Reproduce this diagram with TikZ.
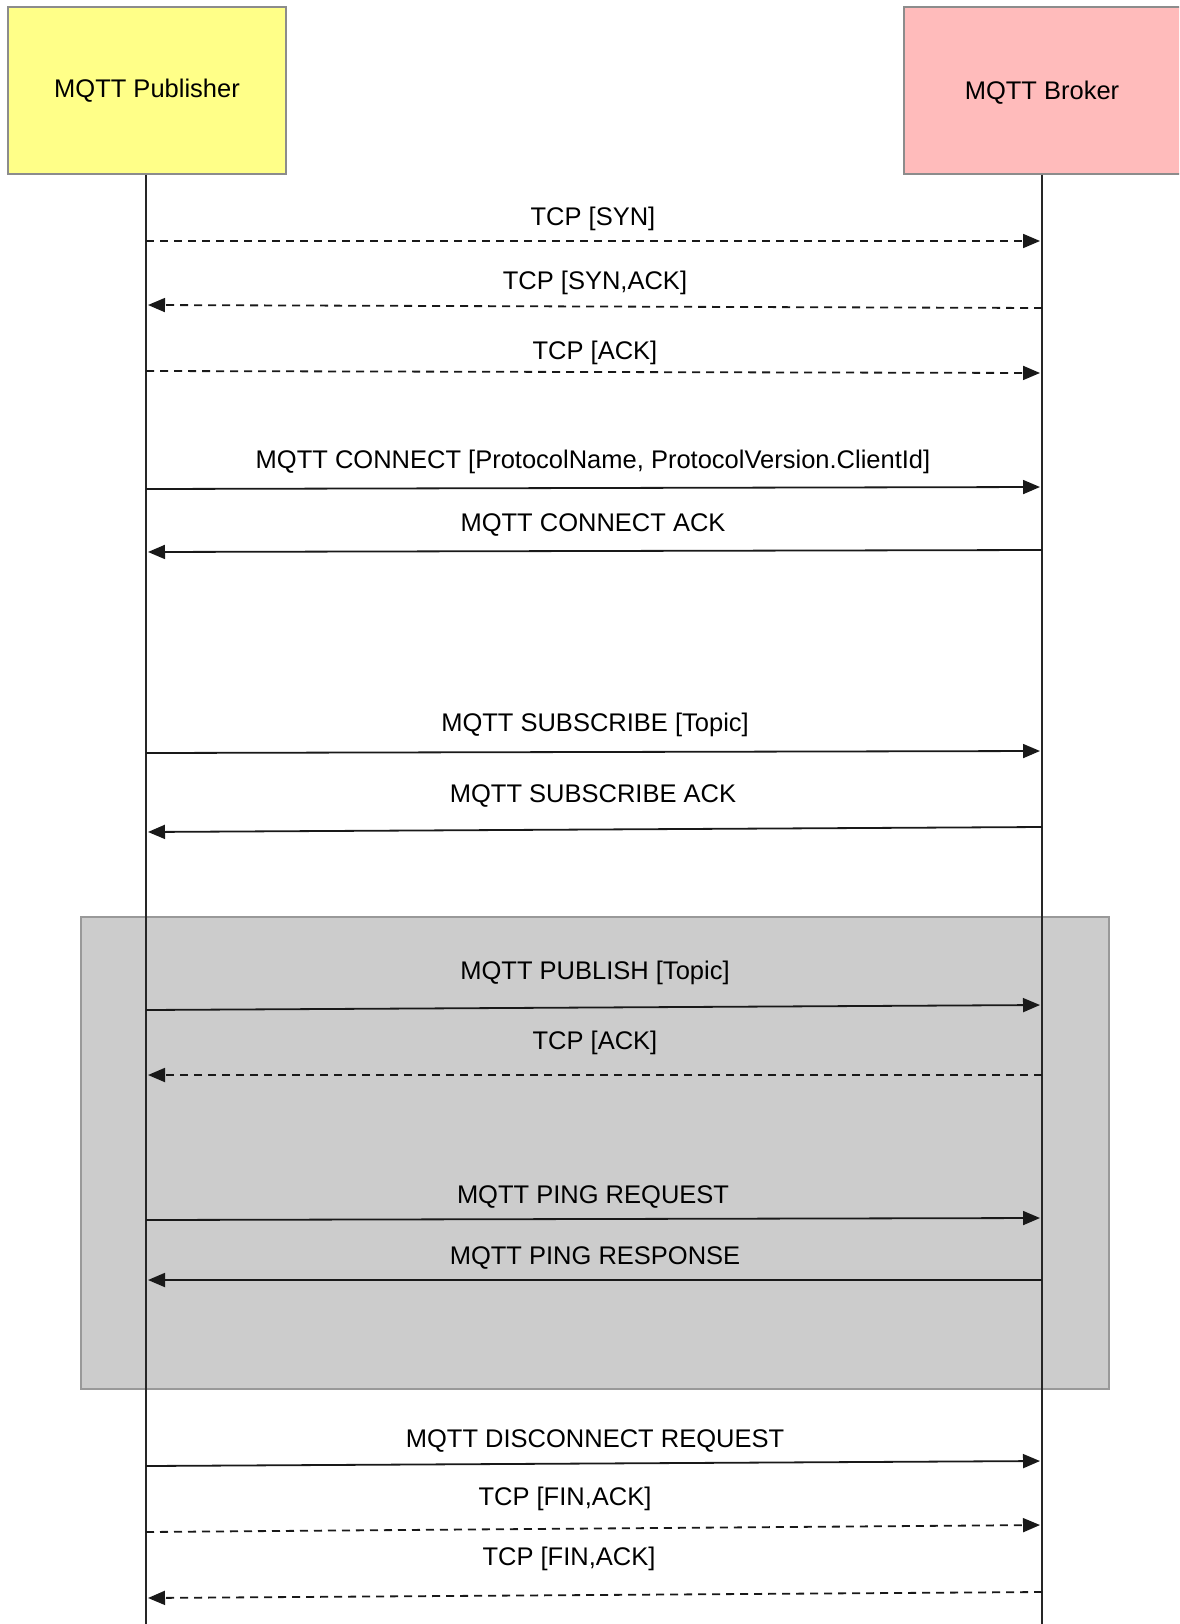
\documentclass[tikz,border=0pt]{standalone}
\usepackage{fontspec}
\setmainfont{Liberation Sans}
\usetikzlibrary{arrows.meta}
\definecolor{pubfill}{HTML}{FFFF88}
\definecolor{brkfill}{HTML}{FFBBBB}
\definecolor{boxline}{HTML}{8C8C8C}
\definecolor{grpfill}{HTML}{CCCCCC}
\definecolor{grpline}{HTML}{999999}
\tikzset{
  actor/.style={draw=boxline, line width=1.5pt, inner sep=0pt, font=\fontsize{25.5}{30}\selectfont},
  lifeline/.style={line width=1.6pt, black!85},
  msg/.style={line width=1.8pt, black!90, -{Triangle[length=17pt,width=14pt]}, shorten >=2pt},
  dmsg/.style={msg, dash pattern=on 8pt off 6pt},
  lbl/.style={font=\fontsize{25.5}{30}\selectfont, inner sep=0pt, black},
}
\begin{document}
\begin{tikzpicture}[x=1pt,y=-1pt]
\useasboundingbox (0,0) rectangle (1179,1624);
\begin{scope}
\clip (0,0) rectangle (1179,1624);
% actors
\node[actor, fill=pubfill, minimum width=278pt, minimum height=167pt] (pub) at (147,90.5) {\raisebox{-2pt}{MQTT Publisher}};
\node[actor, fill=brkfill, minimum width=300pt, minimum height=167pt, anchor=west] (brk) at (903,90.5) {};
\node[actor, draw=none, inner sep=0pt] (brktxt) at (1042,92.5) {MQTT Broker};
% group box
\node[draw=grpline, line width=1.5pt, fill=grpfill, minimum width=1028pt, minimum height=472pt, inner sep=0pt] (grp) at (595,1153) {};
% lifelines
\coordinate (pend) at (146,1624);
\coordinate (bend) at (1042,1624);
\draw[lifeline] (pub.south -| pend) -- (pend);
\draw[lifeline] (brk.south -| bend) -- (bend);
% message end points
\foreach \n/\yp/\yb in {1/241/241, 2/305/308, 3/371/373, 4/489/487, 5/552/550, 6/753/751, 7/832/827, 8/1010/1005, 9/1075/1075, 10/1220/1218, 11/1280/1280, 12/1466/1461, 13/1532/1525, 14/1598/1592}{
  \coordinate (p\n) at (146,\yp);
  \coordinate (b\n) at (1042,\yb);
}
% messages
\draw[dmsg] (p1) -- (b1);
\draw[dmsg] (b2) -- (p2);
\draw[dmsg] (p3) -- (b3);
\draw[msg] (p4) -- (b4);
\draw[msg] (b5) -- (p5);
\draw[msg] (p6) -- (b6);
\draw[msg] (b7) -- (p7);
\draw[msg] (p8) -- (b8);
\draw[dmsg] (b9) -- (p9);
\draw[msg] (p10) -- (b10);
\draw[msg] (b11) -- (p11);
\draw[msg] (p12) -- (b12);
\draw[dmsg] (p13) -- (b13);
\draw[dmsg] (b14) -- (p14);
% labels
\node[lbl] (l1) at (593,219) {TCP [SYN]};
\node[lbl] (l2) at (595,283) {TCP [SYN,ACK]};
\node[lbl] (l3) at (595,353) {TCP [ACK]};
\node[lbl] (l4) at (593,462) {MQTT CONNECT [ProtocolName, ProtocolVersion.ClientId]};
\node[lbl] (l5) at (593,525) {MQTT CONNECT ACK};
\node[lbl] (l6) at (595,725) {MQTT SUBSCRIBE [Topic]};
\node[lbl] (l7) at (593,796) {MQTT SUBSCRIBE ACK};
\node[lbl] (l8) at (595,973) {MQTT PUBLISH [Topic]};
\node[lbl] (l9) at (595,1043) {TCP [ACK]};
\node[lbl] (l10) at (593,1197) {MQTT PING REQUEST};
\node[lbl] (l11) at (595,1258) {MQTT PING RESPONSE};
\node[lbl] (l12) at (595,1441) {MQTT DISCONNECT REQUEST};
\node[lbl] (l13) at (565,1499) {TCP [FIN,ACK]};
\node[lbl] (l14) at (569,1559) {TCP [FIN,ACK]};
\end{scope}
\end{tikzpicture}
\end{document}
